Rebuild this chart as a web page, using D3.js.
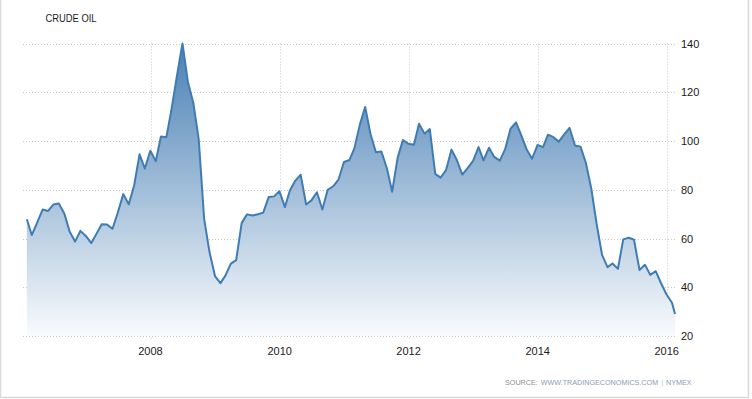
<!DOCTYPE html>
<html>
<head>
<meta charset="utf-8">
<script src="https://cdn.jsdelivr.net/npm/d3@7"></script>
<style>
  html, body { margin: 0; padding: 0; background: #fff; }
  svg { display: block; }
</style>
</head>
<body>
<svg id="chart" width="752" height="399"></svg>
<script>
// ---- data (monthly closes, end of month) ----
const years = [2006, 2007, 2008, 2009, 2010, 2011, 2012, 2013, 2014, 2015, 2016];
const prices2006 = [67.92, 61.41, 66.63, 71.88, 71.29, 73.93, 74.40, 70.26, 62.91, 58.73, 63.13, 61.05];
const prices2007 = [58.14, 61.79, 65.87, 65.71, 64.01, 70.68, 78.21, 74.04, 81.66, 94.53, 88.71, 95.98];
const prices2008 = [91.75, 101.84, 101.58, 113.46, 127.35, 140.00, 124.08, 115.46, 100.64, 67.81, 54.43, 44.60];
const prices2009 = [41.68, 44.76, 49.66, 51.12, 66.31, 69.89, 69.45, 69.96, 70.61, 77.00, 77.28, 79.36];
const prices2010 = [72.89, 79.66, 83.76, 86.15, 73.97, 75.63, 78.95, 71.92, 79.97, 81.43, 84.11, 91.38];
const prices2011 = [92.19, 96.97, 106.72, 113.93, 102.70, 95.42, 95.70, 88.81, 79.20, 93.19, 100.36, 98.83];
const prices2012 = [98.48, 107.07, 103.02, 104.87, 86.53, 84.96, 88.06, 96.47, 92.19, 86.24, 88.91, 91.82];
const prices2013 = [97.49, 92.05, 97.23, 93.46, 91.97, 96.56, 105.03, 107.65, 102.33, 96.38, 92.72, 98.42];
const prices2014 = [97.49, 102.59, 101.58, 99.74, 102.71, 105.37, 98.17, 97.70, 91.16, 80.54, 66.15, 53.27];
const prices2015 = [48.24, 49.76, 47.60, 59.63, 60.30, 59.47, 47.12, 49.20, 45.09, 46.59, 41.65, 37.04];
const prices2016 = [33.62];
const latestDate = "2016-02-17";
const latestPrice = 29.0;
const yTicks = [20, 40, 60, 80, 100, 120, 140];
const xTickYears = [2008, 2010, 2012, 2014, 2016];
const title = "CRUDE OIL";
const sourceParts = ["SOURCE:", "WWW.TRADINGECONOMICS.COM", "|", "NYMEX"];

// ---- build series ----
const byYear = [prices2006, prices2007, prices2008, prices2009, prices2010, prices2011,
                prices2012, prices2013, prices2014, prices2015, prices2016];
const data = [];
byYear.forEach((arr, yi) => {
  arr.forEach((v, m) => {
    data.push({ date: new Date(years[yi], m + 1, 0), value: v }); // end of month
  });
});
data.push({ date: d3.isoParse(latestDate + "T00:00:00"), value: latestPrice });

// ---- layout ----
const svg = d3.select("#chart");
const W = 752, H = 399;

const x = d3.scaleTime()
  .domain([new Date(2008, 0, 1), new Date(2016, 0, 1)])
  .range([150.5, 666.7]);
const y = d3.scaleLinear().domain([20, 140]).range([336, 43.5]);

const gridLeft = 23, gridRight = 677;

// gradient
const defs = svg.append("defs");
const grad = defs.append("linearGradient")
  .attr("id", "fillGrad")
  .attr("gradientUnits", "userSpaceOnUse")
  .attr("x1", 0).attr("x2", 0)
  .attr("y1", y(140)).attr("y2", y(20));
grad.append("stop").attr("offset", 0).attr("stop-color", "#4a80b5");
grad.append("stop").attr("offset", 1).attr("stop-color", "#f9fbfd");

// frame
svg.append("path")
  .attr("d", `M0.5,0 V${H - 1.5} H${W - 3.5} V0`)
  .attr("fill", "none")
  .attr("stroke", "#d9d9d9")
  .attr("stroke-width", 1.5);

// horizontal grid
svg.append("g").selectAll("line").data(yTicks).join("line")
  .attr("x1", gridLeft).attr("x2", gridRight)
  .attr("y1", d => Math.round(y(d)) + 0.5).attr("y2", d => Math.round(y(d)) + 0.5)
  .attr("stroke", "#c8c8c8").attr("stroke-width", 1)
  .attr("stroke-dasharray", "1,2");

// vertical grid
svg.append("g").selectAll("line").data(xTickYears).join("line")
  .attr("x1", d => Math.round(x(new Date(d, 0, 1))) + 0.5)
  .attr("x2", d => Math.round(x(new Date(d, 0, 1))) + 0.5)
  .attr("y1", y(140)).attr("y2", y(20) + 4)
  .attr("stroke", "#c8c8c8").attr("stroke-width", 1)
  .attr("stroke-dasharray", "1,2");

// area
const area = d3.area()
  .x(d => x(d.date))
  .y0(y(20))
  .y1(d => y(d.value));
svg.append("path").datum(data)
  .attr("d", area)
  .attr("fill", "url(#fillGrad)");

// line
const line = d3.line().x(d => x(d.date)).y(d => y(d.value));
svg.append("path").datum(data)
  .attr("d", line)
  .attr("fill", "none")
  .attr("stroke", "#3f7cb4")
  .attr("stroke-width", 2)
  .attr("stroke-linejoin", "round");

// y labels
svg.append("g").selectAll("text").data(yTicks).join("text")
  .attr("x", 681)
  .attr("y", d => y(d) + 4)
  .attr("font-family", "'Liberation Sans', Arial, sans-serif")
  .attr("font-size", "11px")
  .attr("fill", "#1a1a1a")
  .text(d => d);

// x labels
svg.append("g").selectAll("text").data(xTickYears).join("text")
  .attr("x", d => x(new Date(d, 0, 1)))
  .attr("y", 355)
  .attr("text-anchor", "middle")
  .attr("font-family", "'Liberation Sans', Arial, sans-serif")
  .attr("font-size", "11px")
  .attr("fill", "#1a1a1a")
  .text(d => d);

// title
svg.append("text")
  .attr("x", 45.5).attr("y", 21.5)
  .attr("font-family", "'Liberation Sans', Arial, sans-serif")
  .attr("font-size", "11px")
  .attr("textLength", 51)
  .attr("lengthAdjust", "spacingAndGlyphs")
  .attr("fill", "#1a1a2a")
  .text(title);

// source (separate text pieces laid out left to right)
const srcColors = ["#8c8f94", "#8a9bb3", "#aac4e0", "#8a9bb3"];
const srcG = svg.append("g");
let cx = 505;
sourceParts.forEach((t, i) => {
  const el = srcG.append("text")
    .attr("x", cx).attr("y", 385)
    .attr("font-family", "'Liberation Sans', Arial, sans-serif")
    .attr("font-size", "7.2px")
    .attr("fill", srcColors[i])
    .text(t);
  cx += el.node().getComputedTextLength() + 3;
});
</script>
</body>
</html>
